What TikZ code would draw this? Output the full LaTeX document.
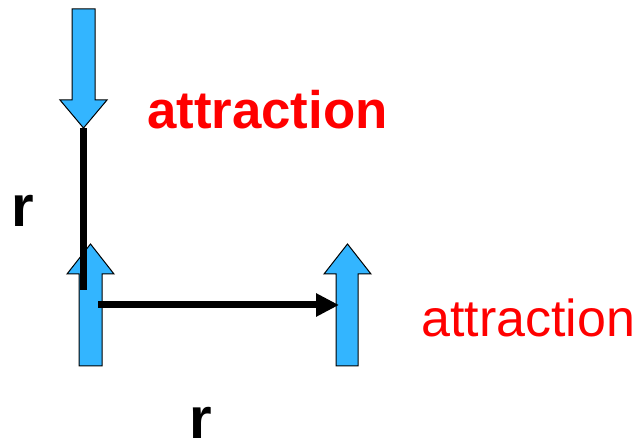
\documentclass[tikz,border=0pt]{standalone}
\usepackage{fontspec}
\setmainfont{Liberation Sans}
\usetikzlibrary{arrows.meta}
\definecolor{arrowblue}{RGB}{51,181,255}
\definecolor{labelred}{RGB}{255,0,0}
\tikzset{
  bluearrow/.style={fill=arrowblue, draw=black, line width=1pt, line join=miter},
  bar/.style={line width=7pt, draw=black},
  lbl/.style={inner sep=0pt, anchor=base west},
}
\begin{document}
\begin{tikzpicture}[x=1pt,y=-1pt]
\useasboundingbox (0,0) rectangle (638,438);
% top arrow (pointing down)
\draw[bluearrow] (72,9) -- (95,9) -- (95,100) -- (107,100) -- (83.5,128) -- (60,100) -- (72,100) -- cycle;
% bottom-left arrow (pointing up)
\draw[bluearrow] (79,366) -- (102,366) -- (102,274) -- (114,274) -- (90.5,244) -- (67,274) -- (79,274) -- cycle;
% bottom-right arrow (pointing up)
\draw[bluearrow] (336,366) -- (358,366) -- (358,274) -- (371,274) -- (347.5,244) -- (324,274) -- (336,274) -- cycle;
% connectors
\coordinate (vtop) at (83.5,128);
\coordinate (vbot) at (83.5,290);
\coordinate (hstart) at (98,305);
\coordinate (hend) at (339,305);
\draw[bar] (vtop) -- (vbot);
\draw[bar, -{Triangle[length=23pt,width=22pt]}] (hstart) -- (hend);
% labels
\node[lbl, text=labelred, font=\fontsize{52.8}{52.8}\selectfont\bfseries] (att1) at (147,129) {attraction};
\node[lbl, text=labelred, font=\fontsize{52}{52}\selectfont] (att2) at (421,337) {attraction};
\node[lbl, font=\fontsize{58}{58}\selectfont\bfseries] (r1) at (11,227) {r};
\node[lbl, font=\fontsize{58}{58}\selectfont\bfseries] (r2) at (189,439) {r};
\end{tikzpicture}
\end{document}
